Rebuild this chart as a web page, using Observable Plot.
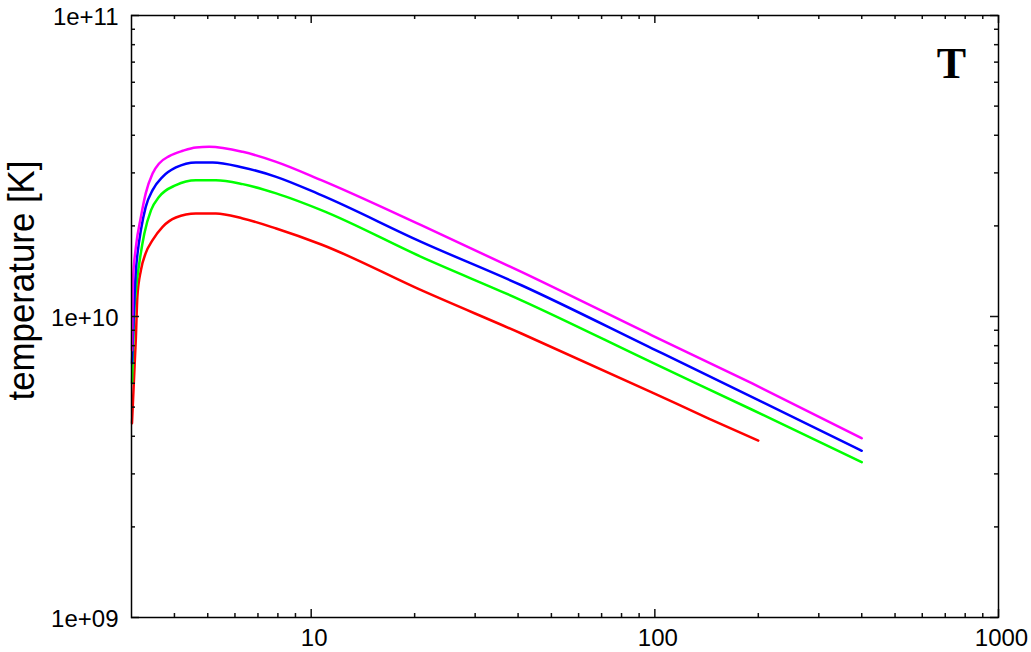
<!DOCTYPE html>
<html><head><meta charset="utf-8">
<script src="https://cdn.jsdelivr.net/npm/d3@7"></script>
<script src="https://cdn.jsdelivr.net/npm/@observablehq/plot@0.6"></script>
<style>body{margin:0;background:#fff}</style>
</head><body><div id="chart"></div>
<script>
// time values and temperatures [K]
const redX = [3.01, 3.09, 3.12, 3.195, 3.30, 3.455, 3.695, 4.04, 4.62, 5.28, 6.32, 7.91, 10.7, 20.9, 40.9, 98, 143.5, 200];
const redT = [4.42e9, 8.55e9, 1.161e10, 1.425e10, 1.623e10, 1.793e10, 1.986e10, 2.133e10, 2.199e10, 2.199e10, 2.117e10, 1.961e10, 1.735e10, 1.223e10, 8.78e9, 5.60e9, 4.58e9, 3.87e9];

const greenX = [3.01, 3.05, 3.09, 3.16, 3.27, 3.42, 3.61, 4.04, 4.62, 5.28, 6.32, 7.91, 10.7, 20.9, 40.9, 98, 192, 400];
const greenT = [6.0e9, 9.97e9, 1.223e10, 1.500e10, 1.887e10, 2.256e10, 2.498e10, 2.732e10, 2.838e10, 2.838e10, 2.753e10, 2.564e10, 2.256e10, 1.578e10, 1.132e10, 7.04e9, 4.90e9, 3.28e9];

const blueX = [3.01, 3.09, 3.124, 3.195, 3.30, 3.455, 3.695, 4.04, 4.62, 5.17, 6.32, 7.91, 10.7, 20.9, 40.9, 98, 192, 400];
const blueT = [6.99e9, 1.425e10, 1.620e10, 1.936e10, 2.314e10, 2.629e10, 2.911e10, 3.128e10, 3.250e10, 3.250e10, 3.128e10, 2.911e10, 2.530e10, 1.770e10, 1.270e10, 7.84e9, 5.40e9, 3.58e9];

const magentaX = [3.01, 3.03, 3.09, 3.195, 3.30, 3.455, 3.61, 3.863, 4.23, 4.62, 5.05, 6.32, 7.91, 10.7, 20.9, 40.9, 98, 192, 400];
const magentaT = [7.72e9, 1.320e10, 1.703e10, 2.14e10, 2.564e10, 2.987e10, 3.225e10, 3.41e10, 3.553e10, 3.646e10, 3.663e10, 3.524e10, 3.265e10, 2.838e10, 2.011e10, 1.406e10, 8.66e9, 5.99e9, 3.94e9];

const xMajor = [10, 100, 1000];
const xLabels = ["10", "100", "1000"];
const xMinor = [4, 5, 6, 7, 8, 9, 20, 30, 40, 50, 60, 70, 80, 90, 200, 300, 400, 500, 600, 700, 800, 900];
const yMajor = [1e9, 1e10, 1e11];
const yLabels = ["1e+09", "1e+10", "1e+11"];
const yMinor = [2e9, 3e9, 4e9, 5e9, 6e9, 7e9, 8e9, 9e9, 2e10, 3e10, 4e10, 5e10, 6e10, 7e10, 8e10, 9e10];

const series = [
  {name: "red", color: "#ff0000", xs: redX, ts: redT},
  {name: "green", color: "#00ff00", xs: greenX, ts: greenT},
  {name: "blue", color: "#0000ff", xs: blueX, ts: blueT},
  {name: "magenta", color: "#ff00ff", xs: magentaX, ts: magentaT}
];

const W = 1031, H = 652, mL = 131, mR = 33, mT = 15, mB = 35;
const iw = W - mL - mR, ih = H - mT - mB;
const tickStyle = {stroke: "#111", strokeWidth: 1.5};

const lineMarks = series.map(s =>
  Plot.line(s.xs.map((x, i) => ({x, T: s.ts[i]})), {
    x: "x", y: "T", stroke: s.color, strokeWidth: 2.5, curve: "monotone-x"
  })
);

const chart = Plot.plot({
  width: W, height: H,
  marginLeft: mL, marginRight: mR, marginTop: mT, marginBottom: mB,
  style: {fontFamily: "'Liberation Sans', Arial, sans-serif", background: "#fff", color: "#000"},
  x: {type: "log", domain: [3, 1000], axis: null},
  y: {type: "log", domain: [1e9, 1e11], axis: null},
  marks: [
    ...lineMarks,
    // bottom & top ticks
    Plot.tickX(xMajor, {x: d => d, insetTop: ih - 8, ...tickStyle}),
    Plot.tickX(xMinor, {x: d => d, insetTop: ih - 4, ...tickStyle}),
    Plot.tickX(xMajor, {x: d => d, insetBottom: ih - 8, ...tickStyle}),
    Plot.tickX(xMinor, {x: d => d, insetBottom: ih - 4, ...tickStyle}),
    // left & right ticks
    Plot.tickY(yMajor, {y: d => d, insetRight: iw - 8, ...tickStyle}),
    Plot.tickY(yMinor, {y: d => d, insetRight: iw - 4, ...tickStyle}),
    Plot.tickY(yMajor, {y: d => d, insetLeft: iw - 8, ...tickStyle}),
    Plot.tickY(yMinor, {y: d => d, insetLeft: iw - 4, ...tickStyle}),
    Plot.frame({stroke: "#000", strokeWidth: 1.5}),
    // tick labels
    Plot.text(xMajor, {x: d => d, text: (d, i) => xLabels[i], frameAnchor: "bottom", lineAnchor: "top", dy: 11, dx: 3, fontSize: 24, fill: "#000"}),
    Plot.text(yMajor, {y: d => d, text: (d, i) => yLabels[i], frameAnchor: "left", textAnchor: "end", dx: -13, dy: 2, fontSize: 24, fill: "#000"}),
    // axis title
    Plot.text(["temperature [K]"], {text: d => d, frameAnchor: "left", rotate: -90, textAnchor: "middle", lineAnchor: "bottom", dx: 33.5 - mL, dy: 280 - (mT + ih / 2), fontSize: 36, fill: "#000"}),
    // panel label
    Plot.text(["T"], {text: d => d, frameAnchor: "top-right", textAnchor: "middle", lineAnchor: "bottom", dx: -47, dy: 62, fontSize: 44, fontWeight: "bold", fontFamily: "'Liberation Serif', 'Times New Roman', serif", fill: "#000"})
  ]
});
document.getElementById("chart").appendChild(chart);
chart.querySelectorAll("text").forEach(t => {
  if (t.textContent === "temperature [K]") {
    t.setAttribute("textLength", "240");
    t.setAttribute("lengthAdjust", "spacingAndGlyphs");
  }
});
</script>
</body></html>
